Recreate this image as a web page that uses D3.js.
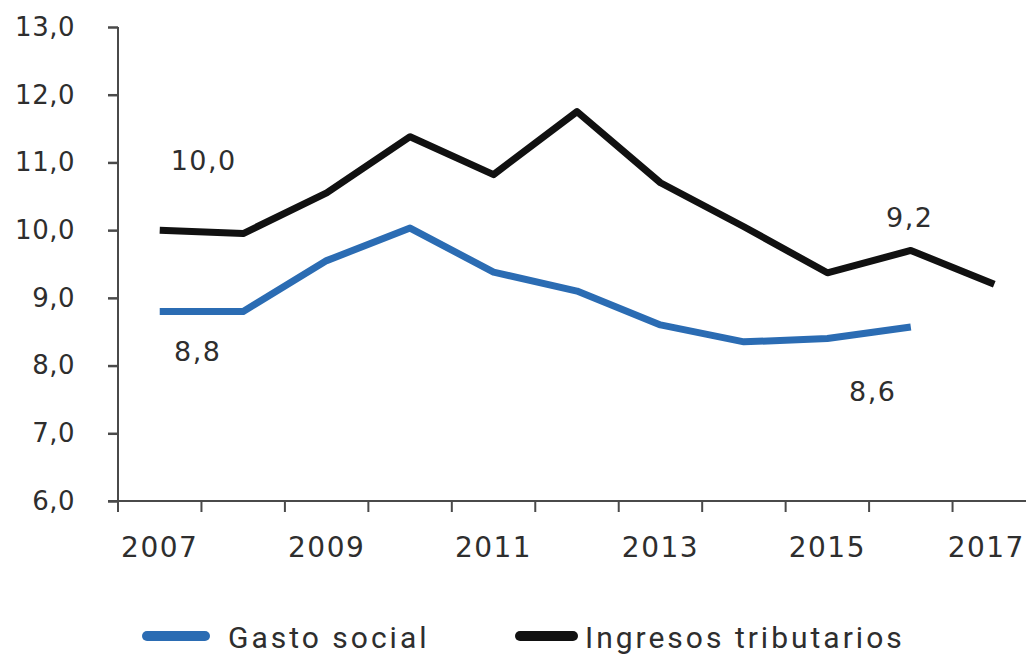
<!DOCTYPE html>
<html>
<head>
<meta charset="utf-8">
<script src="https://cdn.jsdelivr.net/npm/d3@7"></script>
<style>
  html, body { margin: 0; padding: 0; background: #fff; }
  svg { display: block; }
</style>
</head>
<body>
<script>
const years = [2007, 2008, 2009, 2010, 2011, 2012, 2013, 2014, 2015, 2016, 2017];
const tickYears = [2007, 2009, 2011, 2013, 2015, 2017];
const gastoSocial = [8.8, 8.8, 9.55, 10.03, 9.38, 9.1, 8.6, 8.35, 8.4, 8.57, null];
const ingresosTributarios = [10.0, 9.95, 10.55, 11.38, 10.82, 11.75, 10.7, 10.05, 9.37, 9.7, 9.2];
const yTicks = [6, 7, 8, 9, 10, 11, 12, 13];
const seriesNames = ["Gasto social", "Ingresos tributarios"];
const seriesColors = ["#2b6cb3", "#111111"];
const annotations = [
  { text: "10,0", year: 2007, value: 10.0, dx: 44, dy: -70 },
  { text: "8,8", year: 2007, value: 8.8, dx: 38, dy: 40 },
  { text: "9,2", year: 2016, value: 9.7, dx: -1, dy: -33 },
  { text: "8,6", year: 2016, value: 8.57, dx: -38, dy: 65 }
];

const W = 1026, H = 654;
const svg = d3.select("body").append("svg").attr("width", W).attr("height", H);

const x = d3.scaleBand().domain(years).range([118, 1036]).paddingInner(0).paddingOuter(0);
const y = d3.scaleLinear().domain([6, 13]).range([501, 27]);
const xc = d => x(d) + x.bandwidth() / 2;

const locale = d3.formatLocale({ decimal: ",", thousands: ".", grouping: [3], currency: ["", ""] });
const fmt = locale.format(".1f");

const font = "'DejaVu Sans', sans-serif";
const axisColor = "#4a4a4a";
const textColor = "#2e2e2e";

// Y axis
const yAxis = svg.append("g").attr("transform", "translate(118,0)")
  .call(d3.axisLeft(y).tickValues(yTicks).tickFormat(fmt).tickSize(10).tickPadding(33));
yAxis.select(".domain").attr("stroke", axisColor).attr("stroke-width", 2)
  .attr("d", `M0,${y(13)}V512`);
yAxis.selectAll(".tick line").attr("stroke", axisColor).attr("stroke-width", 2.5);
yAxis.selectAll(".tick text").attr("fill", textColor).style("font-family", font)
  .style("font-size", "26px").style("letter-spacing", "0.5px");

// X axis line
svg.append("line").attr("x1", 108).attr("x2", W).attr("y1", y(6)).attr("y2", y(6))
  .attr("stroke", axisColor).attr("stroke-width", 2);
// X ticks at band edges
svg.append("g").selectAll("line").data(years).join("line")
  .attr("x1", d => x(d)).attr("x2", d => x(d))
  .attr("y1", y(6)).attr("y2", y(6) + 11)
  .attr("stroke", axisColor).attr("stroke-width", 2);
// X labels
const xAxis = svg.append("g").attr("transform", `translate(0,${y(6)})`)
  .call(d3.axisBottom(x).tickValues(tickYears).tickFormat(d3.format("d")).tickSize(0).tickPadding(36));
xAxis.select(".domain").remove();
xAxis.selectAll(".tick text").attr("fill", textColor).style("font-family", font)
  .style("font-size", "28px").style("letter-spacing", "1.5px")
  .attr("dx", d => d === 2017 ? "-8px" : "0px");

// Lines
const line = d3.line().defined(d => d[1] != null).x(d => xc(d[0])).y(d => y(d[1]));
[gastoSocial, ingresosTributarios].forEach((vals, i) => {
  svg.append("path")
    .datum(years.map((yr, j) => [yr, vals[j]]))
    .attr("d", line)
    .attr("fill", "none")
    .attr("stroke", seriesColors[i])
    .attr("stroke-width", 7)
    .attr("stroke-linejoin", "round")
    .attr("stroke-linecap", "butt");
});

// Annotations
svg.append("g").selectAll("text").data(annotations).join("text")
  .attr("x", d => xc(d.year) + d.dx)
  .attr("y", d => y(d.value) + d.dy)
  .attr("text-anchor", "middle")
  .attr("dominant-baseline", "central")
  .attr("fill", textColor)
  .style("font-family", font).style("font-size", "27px").style("letter-spacing", "1.5px")
  .text(d => d.text);

// Legend
const legendItems = [
  { name: seriesNames[0], color: seriesColors[0], x1: 147, x2: 205, tx: 228 },
  { name: seriesNames[1], color: seriesColors[1], x1: 520, x2: 573, tx: 585 }
];
const lg = svg.append("g");
legendItems.forEach(it => {
  lg.append("line").attr("x1", it.x1).attr("x2", it.x2).attr("y1", 636).attr("y2", 636)
    .attr("stroke", it.color).attr("stroke-width", 10).attr("stroke-linecap", "round");
  lg.append("text").attr("x", it.tx).attr("y", 637).attr("dominant-baseline", "central")
    .attr("fill", textColor).style("font-family", "Roboto, sans-serif").style("font-size", "30px")
    .style("letter-spacing", "3px")
    .text(it.name);
});
</script>
</body>
</html>
